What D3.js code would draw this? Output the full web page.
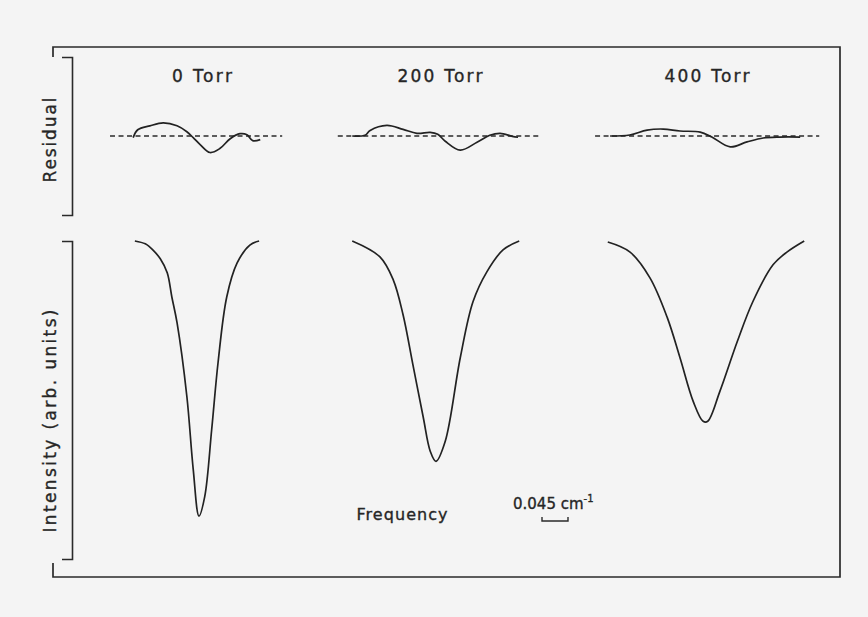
<!DOCTYPE html>
<html>
<head>
<meta charset="utf-8">
<script src="https://cdn.jsdelivr.net/npm/d3@7"></script>
<style>
  body { margin: 0; background: #f4f4f4; }
  svg { display: block; }
  text { font-family: "DejaVu Sans", sans-serif; fill: #262626; stroke: #262626; stroke-width: 0.35; }
  .domain { stroke: #2a2a2a; stroke-width: 1.6; fill: none; }
</style>
</head>
<body>
<script>
// Panel titles (pressure)
var panelLabels = ["0 Torr", "200 Torr", "400 Torr"];

// Absorption profiles: frequency offset from line centre (cm-1), relative intensity
var freq0 = [-0.111, -0.093, -0.080, -0.067, -0.055, -0.047, -0.038, -0.021, -0.010, 0, 0.010, 0.022, 0.033, 0.048, 0.066, 0.088, 0.104];
var int0  = [1.000, 0.991, 0.972, 0.944, 0.900, 0.824, 0.743, 0.511, 0.282, 0.135, 0.197, 0.408, 0.618, 0.824, 0.931, 0.987, 1.000];

var freq200 = [-0.145, -0.097, -0.074, -0.057, -0.040, -0.022, -0.010, 0, 0.016, 0.042, 0.064, 0.088, 0.116, 0.144];
var int200  = [1.000, 0.950, 0.878, 0.768, 0.611, 0.445, 0.339, 0.307, 0.370, 0.633, 0.809, 0.903, 0.972, 1.000];

var freq400 = [-0.170, -0.132, -0.097, -0.067, -0.045, -0.022, -0.005, 0.003, 0.024, 0.054, 0.081, 0.116, 0.140, 0.170];
var int400  = [0.997, 0.966, 0.884, 0.759, 0.633, 0.495, 0.433, 0.433, 0.527, 0.683, 0.809, 0.925, 0.965, 1.000];

// Fit residuals (arb. units)
var resFreq0 = [-0.114, -0.106, -0.085, -0.062, -0.038, -0.021, -0.010, 0.002, 0.019, 0.036, 0.054, 0.071, 0.083, 0.093, 0.106];
var res0     = [-0.021, 0.079, 0.129, 0.166, 0.129, 0.054, -0.021, -0.109, -0.209, -0.159, -0.034, 0.029, 0.016, -0.059, -0.046];

var resFreq200 = [-0.145, -0.123, -0.114, -0.085, -0.057, -0.033, -0.010, 0.003, 0.016, 0.042, 0.071, 0.093, 0.111, 0.132, 0.142];
var res200     = [0.000, 0.009, 0.071, 0.134, 0.084, 0.034, 0.046, 0.021, -0.066, -0.179, -0.079, 0.009, 0.034, -0.004, -0.016];

var resFreq400 = [-0.166, -0.132, -0.102, -0.074, -0.045, -0.010, 0.010, 0.042, 0.071, 0.099, 0.128, 0.163];
var res400     = [0.000, 0.013, 0.075, 0.088, 0.063, 0.050, -0.013, -0.138, -0.075, -0.025, -0.013, -0.013];

// Extent of the zero line in each residual panel (cm-1)
var zeroExtent0 = [-0.154, 0.144];
var zeroExtent200 = [-0.170, 0.183];
var zeroExtent400 = [-0.192, 0.196];

// Frequency scale bar (cm-1)
var scaleBarWidth = 0.045;

// Width and height
var w = 868;
var h = 617;

var panelCenters = [199, 436, 706];
var pxPerWave = 26 / 0.045;

var panels = [
  { label: panelLabels[0], freq: freq0, inten: int0, rf: resFreq0, res: res0, zero: zeroExtent0 },
  { label: panelLabels[1], freq: freq200, inten: int200, rf: resFreq200, res: res200, zero: zeroExtent200 },
  { label: panelLabels[2], freq: freq400, inten: int400, rf: resFreq400, res: res400, zero: zeroExtent400 }
];

// Vertical scales
var yInt = d3.scaleLinear().domain([0, 1]).range([559, 241]);
var yRes = d3.scaleLinear().domain([-1, 1]).range([215, 57]);

// Create SVG element
var svg = d3.select("body")
      .append("svg")
      .attr("width", w)
      .attr("height", h);

// Outer frame (open at the left)
svg.append("path")
   .attr("d", "M53,57V47H840V577H53V563")
   .attr("fill", "none")
   .attr("stroke", "#2a2a2a")
   .attr("stroke-width", 1.7);

// Bracket style axes with no ticks
svg.append("g")
   .attr("transform", "translate(72,0)")
   .call(d3.axisLeft(yRes).tickValues([]).tickSizeOuter(10));

svg.append("g")
   .attr("transform", "translate(72,0)")
   .call(d3.axisLeft(yInt).tickValues([]).tickSizeOuter(10));

// Axis titles
svg.append("text")
   .attr("transform", "translate(56,140) rotate(-90)")
   .attr("text-anchor", "middle")
   .attr("font-size", 17)
   .attr("textLength", 85)
   .attr("lengthAdjust", "spacing")
   .text("Residual");

svg.append("text")
   .attr("transform", "translate(56,421) rotate(-90)")
   .attr("text-anchor", "middle")
   .attr("font-size", 17)
   .attr("textLength", 223)
   .attr("lengthAdjust", "spacing")
   .text("Intensity (arb. units)");

var titleWidths = [60, 85, 85];
var titleCenters = [202, 440, 707];

panels.forEach(function(p, i) {
  var c = panelCenters[i];
  var x = d3.scaleLinear()
            .domain([-0.2, 0.2])
            .range([c - 0.2 * pxPerWave, c + 0.2 * pxPerWave]);

  var g = svg.append("g").attr("class", "panel");

  g.append("text")
   .attr("x", titleCenters[i])
   .attr("y", 82)
   .attr("text-anchor", "middle")
   .attr("font-size", 17)
   .attr("textLength", titleWidths[i])
   .attr("lengthAdjust", "spacing")
   .text(p.label);

  // zero line of residual
  g.append("path")
   .datum(p.zero)
   .attr("d", d3.line().x(function(d) { return x(d); }).y(yRes(0)))
   .attr("fill", "none")
   .attr("stroke", "#2a2a2a")
   .attr("stroke-width", 1.5)
   .attr("stroke-dasharray", "5,3.5");

  // residual
  g.append("path")
   .datum(d3.range(p.rf.length))
   .attr("d", d3.line()
        .curve(d3.curveCatmullRom.alpha(0.5))
        .x(function(k) { return x(p.rf[k]); })
        .y(function(k) { return yRes(p.res[k]); }))
   .attr("fill", "none")
   .attr("stroke", "#222")
   .attr("stroke-width", 1.7);

  // profile
  g.append("path")
   .datum(d3.range(p.freq.length))
   .attr("d", d3.line()
        .curve(d3.curveCatmullRom.alpha(0.5))
        .x(function(k) { return x(p.freq[k]); })
        .y(function(k) { return yInt(p.inten[k]); }))
   .attr("fill", "none")
   .attr("stroke", "#222")
   .attr("stroke-width", 1.7);
});

// Frequency label and scale bar
svg.append("text")
   .attr("x", 402)
   .attr("y", 520)
   .attr("text-anchor", "middle")
   .attr("font-size", 16)
   .attr("textLength", 91)
   .attr("lengthAdjust", "spacing")
   .text("Frequency");

var barX = d3.scaleLinear().domain([0, scaleBarWidth]).range([542, 542 + scaleBarWidth * pxPerWave]);

svg.append("path")
   .attr("d", "M" + barX(0) + ",517V521H" + barX(scaleBarWidth) + "V517")
   .attr("fill", "none")
   .attr("stroke", "#2a2a2a")
   .attr("stroke-width", 1.4);

var lab = svg.append("text")
   .attr("x", 513)
   .attr("y", 509)
   .attr("font-size", 15);
lab.append("tspan").text("0.045 cm");
lab.append("tspan")
   .attr("dy", -7)
   .attr("font-size", 10)
   .text("-1");
</script>
</body>
</html>
